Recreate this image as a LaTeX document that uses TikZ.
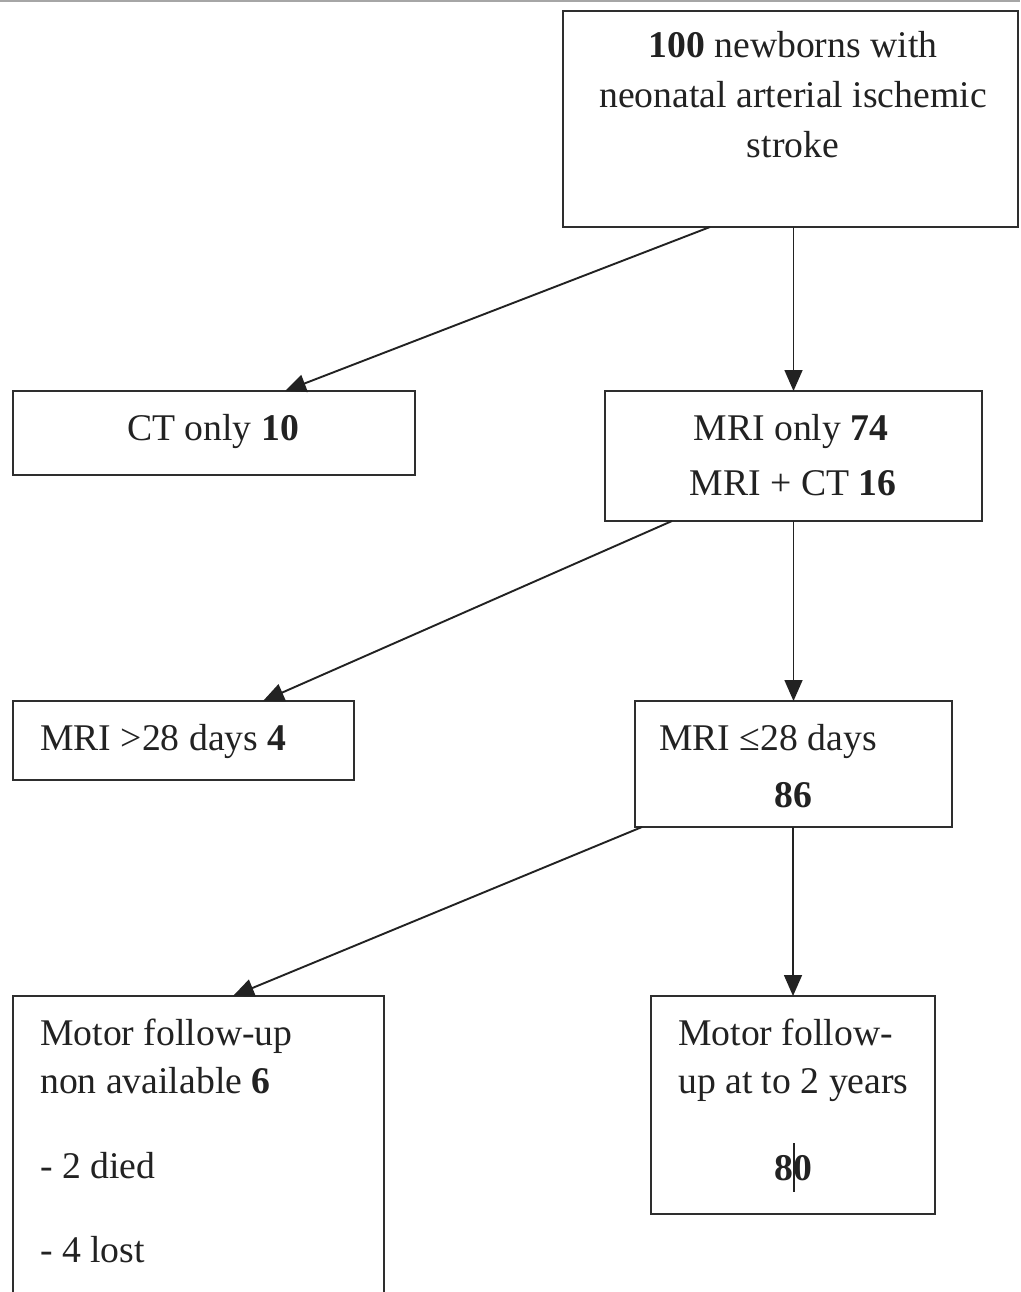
\documentclass[tikz,border=0pt]{standalone}
\usepackage{fontspec}
\setmainfont{Liberation Serif}
\usetikzlibrary{arrows.meta,calc}
\definecolor{ink}{HTML}{222222}
\definecolor{frame}{HTML}{2E2E2E}
\begin{document}
\begin{tikzpicture}[x=1pt,y=-1pt,
  box/.style={draw=frame,line width=1.8pt,rectangle,inner sep=0pt,outer sep=0pt},
  txt/.style={text=ink,inner sep=0pt,font=\fontsize{37.7pt}{45pt}\selectfont},
  flow/.style={draw=ink,line width=1.9pt,-{Triangle[length=21pt,width=18pt]}},
  down/.style={draw=ink,line width=1.6pt,-{Triangle[length=21pt,width=18pt]}}]
\useasboundingbox (0,0) rectangle (1020,1292);
\clip (0,0) rectangle (1020,1292);
\fill[white] (0,0) rectangle (1020,1292);
% page rule along the upper edge
\draw[gray!70,line width=2pt] (0,1) -- (1020,1);

% boxes
\node[box,minimum width=455pt,minimum height=216pt] (top) at (790.5,119) {};
\node[box,minimum width=402pt,minimum height=84pt] (ct) at (214,433) {};
\node[box,minimum width=377pt,minimum height=130pt] (mri) at (793.5,456) {};
\node[box,minimum width=341pt,minimum height=79pt] (late) at (183.5,740.5) {};
\node[box,minimum width=317pt,minimum height=126pt] (early) at (793.5,764) {};
\node[box,minimum width=371pt,minimum height=330pt] (lost) at (198.5,1161) {};
\node[box,minimum width=284pt,minimum height=218pt] (follow) at (793,1105) {};

% texts
\node[txt,anchor=base] (t1) at (793,58) {\textbf{100} newborns with};
\node[txt,anchor=base] (t2) at (793,108) {neonatal arterial ischemic};
\node[txt,anchor=base] (t3) at (793,158) {stroke};
\node[txt,anchor=base] (c1) at (213,440) {CT only \textbf{10}};
\node[txt,anchor=base] (m1) at (791,440) {MRI only \textbf{74}};
\node[txt,anchor=base] (m2) at (793,495) {MRI + CT \textbf{16}};
\node[txt,anchor=base west] (l1) at (40,750) {MRI >28 days \textbf{4}};
\node[txt,anchor=base west] (e1) at (659,750) {MRI ≤28 days};
\node[txt,anchor=base] (e2) at (793,807) {\textbf{86}};
\node[txt,anchor=base west] (n1) at (40,1045) {Motor follow-up};
\node[txt,anchor=base west] (n2) at (40,1093) {non available \textbf{6}};
\node[txt,anchor=base west] (n3) at (40,1178) {- 2 died};
\node[txt,anchor=base west] (n4) at (40,1262) {- 4 lost};
\node[txt,anchor=base west] (f1) at (678,1045) {Motor follow-};
\node[txt,anchor=base west] (f2) at (678,1093) {up at to 2 years};
\node[txt,anchor=base] (f3) at (793,1180) {\textbf{80}};
% text cursor mark inside the count
\draw[ink,line width=1.3pt] ($(f3.base)+(1,-37)$) -- ($(f3.base)+(1,12)$);

% connectors
\draw[flow] ([xshift=147pt]top.south west) -- ([xshift=272pt]ct.north west);
\draw[down] (top.south -| mri.north) -- (mri.north);
\draw[flow] ([xshift=67pt]mri.south west) -- ([xshift=250pt]late.north west);
\draw[down] (mri.south) -- (early.north);
\draw[flow] ([xshift=7pt]early.south west) -- ([xshift=220pt]lost.north west);
\draw[down] (early.south -| follow.north) -- (follow.north);
\end{tikzpicture}
\end{document}
